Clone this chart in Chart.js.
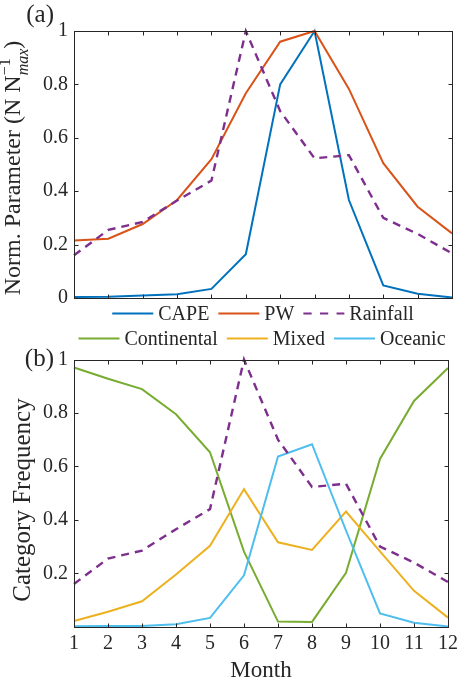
<!DOCTYPE html>
<html>
<head>
<meta charset="utf-8">
<script src="https://cdn.jsdelivr.net/npm/chart.js@4/dist/chart.umd.min.js"></script>
<style>
  html, body { margin: 0; padding: 0; background: #fff; font-family: 'Liberation Serif', 'DejaVu Serif', serif; }
  #wrap { position: relative; width: 463px; height: 686px; }
  #wrap canvas { position: absolute; left: 0; }
  #ca { top: 0; }
  #cb { top: 326px; }
</style>
</head>
<body>
<div id="wrap">
  <canvas id="ca" width="463" height="326"></canvas>
  <canvas id="cb" width="463" height="360"></canvas>
</div>
<script>
// Monthly climatology, normalised values
const months = [1, 2, 3, 4, 5, 6, 7, 8, 9, 10, 11, 12];

// panel (a): normalised parameters
const cape     = [0.004, 0.005, 0.009, 0.014, 0.034, 0.164, 0.80, 1.0, 0.367, 0.047, 0.016, 0.002];
const pw       = [0.215, 0.222, 0.277, 0.367, 0.52, 0.767, 0.96, 1.0, 0.783, 0.505, 0.342, 0.242];
const rainfall = [0.16, 0.255, 0.285, 0.365, 0.44, 1.0, 0.70, 0.523, 0.535, 0.30, 0.24, 0.167];

// panel (b): category frequencies
const continental = [0.97, 0.928, 0.889, 0.795, 0.653, 0.281, 0.019, 0.018, 0.202, 0.628, 0.845, 0.968];
const mixed       = [0.021, 0.056, 0.095, 0.195, 0.303, 0.515, 0.316, 0.287, 0.431, 0.282, 0.134, 0.034];
const oceanic     = [0.002, 0.003, 0.003, 0.009, 0.033, 0.192, 0.637, 0.683, 0.36, 0.05, 0.015, 0.001];

const yTicks = [0, 0.2, 0.4, 0.6, 0.8, 1];

const FONT = "'Liberation Serif', 'DejaVu Serif', serif";
const INK = '#262626';
const TICK_LEN = 4;
Chart.defaults.font.family = FONT;
Chart.defaults.color = INK;

const C_CAPE = '#0072BD', C_PW = '#D95319', C_RAIN = '#7E2F8E';
const C_CONT = '#77AC30', C_MIX = '#EDB120', C_OCE = '#4DBEEE';
const DASH = [8, 6];

function series(label, data, color, order, dash) {
  return {
    label, data, order,
    borderColor: color, backgroundColor: color,
    borderWidth: dash ? 2.4 : 2,
    borderDash: dash || [],
    pointRadius: 0, pointHoverRadius: 0,
    tension: 0, fill: false, clip: false
  };
}

// box around the plot area with inward tick marks on all four sides
const frame = {
  id: 'frame',
  afterDraw(chart) {
    const { ctx, chartArea: a, scales: { x, y } } = chart;
    ctx.save();
    ctx.strokeStyle = INK;
    ctx.lineWidth = 1;
    const L = Math.round(a.left) + 0.5, R = Math.round(a.right) + 0.5;
    const T = Math.round(a.top) + 0.5, B = Math.round(a.bottom) + 0.5;
    ctx.strokeRect(L, T, R - L, B - T);
    ctx.beginPath();
    x.ticks.forEach((t, i) => {
      const px = Math.round(x.getPixelForTick(i)) + 0.5;
      ctx.moveTo(px, B); ctx.lineTo(px, B - TICK_LEN);
      ctx.moveTo(px, T); ctx.lineTo(px, T + TICK_LEN);
    });
    y.ticks.forEach(t => {
      const py = Math.round(y.getPixelForValue(t.value)) + 0.5;
      ctx.moveTo(L, py); ctx.lineTo(L + TICK_LEN, py);
      ctx.moveTo(R, py); ctx.lineTo(R - TICK_LEN, py);
    });
    ctx.stroke();
    ctx.restore();
  }
};

// horizontal legend row built from the chart's datasets
function legendRow(ctx, datasets, cx, cy) {
  const lineW = 41, gapLT = 5, gapItem = 9;
  ctx.save();
  ctx.font = '20px ' + FONT;
  const items = datasets.map(d => ({ d, w: ctx.measureText(d.label).width }));
  const total = items.reduce((s, it) => s + lineW + gapLT + it.w, 0) + gapItem * (items.length - 1);
  let x = cx - total / 2;
  items.forEach(it => {
    ctx.strokeStyle = it.d.borderColor;
    ctx.lineWidth = 2;
    ctx.setLineDash(it.d.borderDash.length ? [8.3, 8.3] : []);
    ctx.beginPath();
    ctx.moveTo(x, cy); ctx.lineTo(x + lineW, cy);
    ctx.stroke();
    ctx.setLineDash([]);
    x += lineW + gapLT;
    ctx.fillStyle = INK;
    ctx.textBaseline = 'middle';
    ctx.textAlign = 'left';
    ctx.fillText(it.d.label, x, cy + 1);
    x += it.w + gapItem;
  });
  ctx.restore();
}

// rotated axis title made of runs (supports a stacked super/subscript)
function rotatedTitle(ctx, baseX, centerY, runs) {
  ctx.save();
  const widthOf = r => {
    if (r.stack) return Math.max(...r.stack.map(s => { ctx.font = s.font; return ctx.measureText(s.text).width; }));
    ctx.font = r.font; return ctx.measureText(r.text).width;
  };
  const total = runs.reduce((s, r) => s + widthOf(r), 0);
  ctx.translate(baseX, centerY);
  ctx.rotate(-Math.PI / 2);
  ctx.fillStyle = INK;
  ctx.textBaseline = 'alphabetic';
  ctx.textAlign = 'left';
  let x = -total / 2;
  runs.forEach(r => {
    const w = widthOf(r);
    if (r.stack) {
      r.stack.forEach(s => { ctx.font = s.font; ctx.fillText(s.text, x, s.dy); });
    } else {
      ctx.font = r.font; ctx.fillText(r.text, x, 0);
    }
    x += w;
  });
  ctx.restore();
}

function panelLabel(ctx, text, x, y) {
  ctx.save();
  ctx.font = '25px ' + FONT;
  ctx.fillStyle = INK;
  ctx.textAlign = 'right';
  ctx.textBaseline = 'alphabetic';
  ctx.fillText(text, x, y);
  ctx.restore();
}

const fmt = v => String(Math.round(v * 10) / 10);

function yScale(hideZero) {
  return {
    min: 0, max: 1,
    afterBuildTicks: s => { s.ticks = yTicks.map(v => ({ value: v })); },
    afterFit: s => { s.width = 74; },
    grid: { display: false, drawTicks: false },
    border: { display: false },
    ticks: {
      font: { size: 20, family: FONT }, color: INK, padding: 6,
      callback: v => (hideZero && v === 0) ? '' : fmt(v)
    }
  };
}

const decorA = {
  id: 'decorA',
  afterDraw(chart) {
    const ctx = chart.ctx;
    legendRow(ctx, chart.data.datasets, 263, 313.5);
    rotatedTitle(ctx, 20, 168, [
      { text: 'Norm. Parameter (N N', font: '24px ' + FONT },
      { stack: [
          { text: '\u22121', font: '16px ' + FONT, dy: -10 },
          { text: 'max', font: 'italic 16px ' + FONT, dy: 8 }
        ] },
      { text: ')', font: '24px ' + FONT }
    ]);
    panelLabel(ctx, '(a)', 54, 22);
  }
};

const decorB = {
  id: 'decorB',
  afterDraw(chart) {
    const ctx = chart.ctx;
    // legend lists the category series only
    legendRow(ctx, chart.data.datasets.filter(d => d.label !== 'Rainfall'), 262, 12.5);
    rotatedTitle(ctx, 30, 500 - 326, [{ text: 'Category Frequency', font: '25px ' + FONT }]);
    panelLabel(ctx, '(b)', 54, 40);
  }
};

function build() {
  new Chart(document.getElementById('ca'), {
    type: 'line',
    data: {
      labels: months,
      datasets: [
        series('CAPE', cape, C_CAPE, 3),
        series('PW', pw, C_PW, 2),
        series('Rainfall', rainfall, C_RAIN, 1, DASH)
      ]
    },
    options: {
      responsive: false, animation: false,
      layout: { padding: { left: 0, right: 11, top: 31, bottom: 28 } },
      plugins: { legend: { display: false }, tooltip: { enabled: false } },
      scales: {
        x: {
          type: 'category', offset: false,
          grid: { display: false, drawTicks: false }, border: { display: false },
          ticks: { display: false },
          afterFit: s => { s.height = 0; }
        },
        y: yScale(false)
      }
    },
    plugins: [frame, decorA]
  });

  new Chart(document.getElementById('cb'), {
    type: 'line',
    data: {
      labels: months,
      datasets: [
        series('Continental', continental, C_CONT, 4),
        series('Mixed', mixed, C_MIX, 3),
        series('Oceanic', oceanic, C_OCE, 2),
        series('Rainfall', rainfall, C_RAIN, 1, DASH)
      ]
    },
    options: {
      responsive: false, animation: false,
      layout: { padding: { left: 0, right: 11, top: 33.5, bottom: 0 } },
      plugins: { legend: { display: false }, tooltip: { enabled: false } },
      scales: {
        x: {
          type: 'category', offset: false,
          grid: { display: false, drawTicks: false }, border: { display: false },
          ticks: { font: { size: 20, family: FONT }, color: INK, padding: 5, maxRotation: 0, autoSkip: false },
          title: { display: true, text: 'Month', font: { size: 23, family: FONT }, color: INK, padding: { top: 0, bottom: 1 } },
          afterFit: s => { s.height = 59.3; }
        },
        y: yScale(true)
      }
    },
    plugins: [frame, decorB]
  });
}

// make sure the serif face is ready before the canvases are painted
Promise.all([
  document.fonts.load("20px 'Liberation Serif'"),
  document.fonts.load("italic 16px 'Liberation Serif'"),
  document.fonts.load("20px 'DejaVu Serif'")
]).catch(() => {}).then(build);
</script>
</body>
</html>
